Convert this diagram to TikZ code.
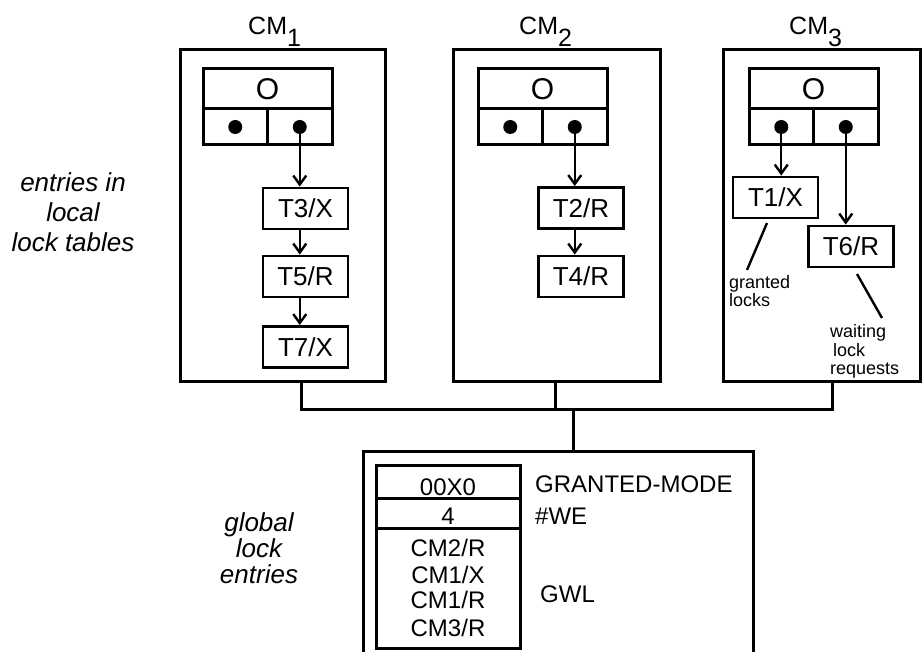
\documentclass[tikz,border=0pt]{standalone}
\usepackage{fontspec}
\setmainfont{Liberation Sans}
\usetikzlibrary{arrows.meta}
\begin{document}
\begin{tikzpicture}[x=1pt,y=-1pt,
  boxline/.style={line width=3pt},
  frame/.style={draw, line width=3pt, rectangle, inner sep=0pt},
  ocell/.style={draw, line width=3pt, rectangle, inner sep=0pt, minimum width=129pt, minimum height=40pt, font=\fontsize{30}{30}\selectfont},
  pcell/.style={draw, line width=3pt, rectangle, inner sep=0pt, minimum width=64.5pt, minimum height=36pt},
  tbox/.style={draw, line width=2.8pt, rectangle, inner sep=0pt, minimum width=85pt, minimum height=41pt, font=\fontsize{26}{26}\selectfont},
  ptr/.style={line width=2.4pt, -{Straight Barb[length=9pt,width=13pt]}},
  dotc/.style={circle, fill, inner sep=0pt, minimum size=14pt},
  cmlabel/.style={anchor=base west, inner sep=0pt, font=\fontsize{25}{25}\selectfont},
  sidetext/.style={anchor=base, inner sep=0pt, font=\fontsize{26}{26}\selectfont\itshape},
  smalltext/.style={anchor=base west, inner sep=0pt, font=\fontsize{18}{18}\selectfont},
  gtext/.style={anchor=base, inner sep=0pt, font=\fontsize{24}{24}\selectfont},
  gside/.style={anchor=base west, inner sep=0pt, font=\fontsize{24}{24}\selectfont},
  thin/.style={line width=2.4pt}
]
\useasboundingbox (0,0) rectangle (922,652);

% cache manager boxes
\node[frame, minimum width=205pt, minimum height=332pt] (cm1) at (282.5,216) {};
\node[frame, minimum width=207pt, minimum height=332pt] (cm2) at (556.5,216) {};
\node[frame, minimum width=197pt, minimum height=332pt] (cm3) at (821.5,216) {};

\node[cmlabel] (lab1) at (248,35) {CM\raisebox{-12pt}{1}};
\node[cmlabel] (lab2) at (519,35) {CM\raisebox{-12pt}{2}};
\node[cmlabel] (lab3) at (789,35) {CM\raisebox{-12pt}{3}};

% object tables
\foreach \i/\x in {1/203,2/478,3/749}{
  \node[ocell] (o\i) at (\x+64.5,89) {O};
  \node[pcell] (l\i) at (\x+32.25,127) {};
  \node[pcell] (r\i) at (\x+96.75,127) {};
  \node[dotc] (dl\i) at (l\i) {};
  \node[dotc] (dr\i) at (r\i) {};
}

% lock entries
\node[tbox] (t3) at (305.5,208.5) {T3/X};
\node[tbox] (t5) at (305.5,276.5) {T5/R};
\node[tbox] (t7) at (305.5,347) {T7/X};
\node[tbox] (t2) at (581,208) {T2/R};
\node[tbox] (t4) at (581,276.5) {T4/R};
\node[tbox] (t1) at (775.5,197.5) {T1/X};
\node[tbox] (t6) at (851,246.5) {T6/R};

\draw[ptr] (dr1.center) -- (dr1.center |- t3.north);
\draw[ptr] (t3.south -| dr1.center) -- (t5.north -| dr1.center);
\draw[ptr] (t5.south -| dr1.center) -- (t7.north -| dr1.center);
\draw[ptr] (dr2.center) -- (dr2.center |- t2.north);
\draw[ptr] (t2.south -| dr2.center) -- (t4.north -| dr2.center);
\draw[ptr] (dl3.center) -- (dl3.center |- t1.north);
\draw[ptr] (dr3.center) -- (dr3.center |- t6.north);

% annotations in CM3
\coordinate (gs) at (767,223);
\coordinate (ge) at (747,270);
\draw[thin] (gs) -- (ge);
\node[smalltext] (gr1) at (729,289) {granted};
\node[smalltext] (gr2) at (729,307) {locks};
\coordinate (ws) at (857,274);
\coordinate (we) at (882,318);
\draw[thin] (ws) -- (we);
\node[smalltext] (wa1) at (830,338) {waiting};
\node[smalltext] (wa2) at (833,357) {lock};
\node[smalltext] (wa3) at (830,375) {requests};

% side texts
\node[sidetext] (e1) at (73,192) {entries in};
\node[sidetext] (e2) at (73,222) {local};
\node[sidetext] (e3) at (73,252) {lock tables};
\node[sidetext] (g1) at (259,532) {global};
\node[sidetext] (g2) at (259,558) {lock};
\node[sidetext] (g3) at (259,583) {entries};

% bus
\coordinate (d1) at (301,410);
\coordinate (d2) at (555,410);
\coordinate (d3) at (832,410);
\coordinate (jn) at (573,410);
\coordinate (gtop) at (573,452);
\draw[boxline] (d1 |- cm1.south) -- (d1) -- (d3) -- (d3 |- cm3.south);
\draw[boxline] (d2 |- cm2.south) -- (d2);
\draw[boxline] (jn) -- (gtop);

% global lock entry box (open at the bottom)
\coordinate (gbl) at (363,652);
\coordinate (gtl) at (363,452);
\coordinate (gtr) at (753,452);
\coordinate (gbr) at (753,652);
\draw[boxline] (gbl) -- (gtl) -- (gtr) -- (gbr);

\node[frame, minimum width=144pt, minimum height=33pt] (gm) at (448,482.5) {};
\node[frame, minimum width=144pt, minimum height=29pt] (gwe) at (448,513.5) {};
\node[frame, minimum width=144pt, minimum height=120pt] (gwl) at (448,588) {};

\node[gtext] (v1) at (448,496) {00X0};
\node[gtext] (v2) at (448,525) {4};
\node[gtext] (v3) at (448,556) {CM2/R};
\node[gtext] (v4) at (448,583) {CM1/X};
\node[gtext] (v5) at (448,608) {CM1/R};
\node[gtext] (v6) at (448,636) {CM3/R};

\node[gside] (n1) at (535,493) {GRANTED-MODE};
\node[gside] (n2) at (535,524) {\#WE};
\node[gside] (n3) at (540,602) {GWL};
\end{tikzpicture}
\end{document}
